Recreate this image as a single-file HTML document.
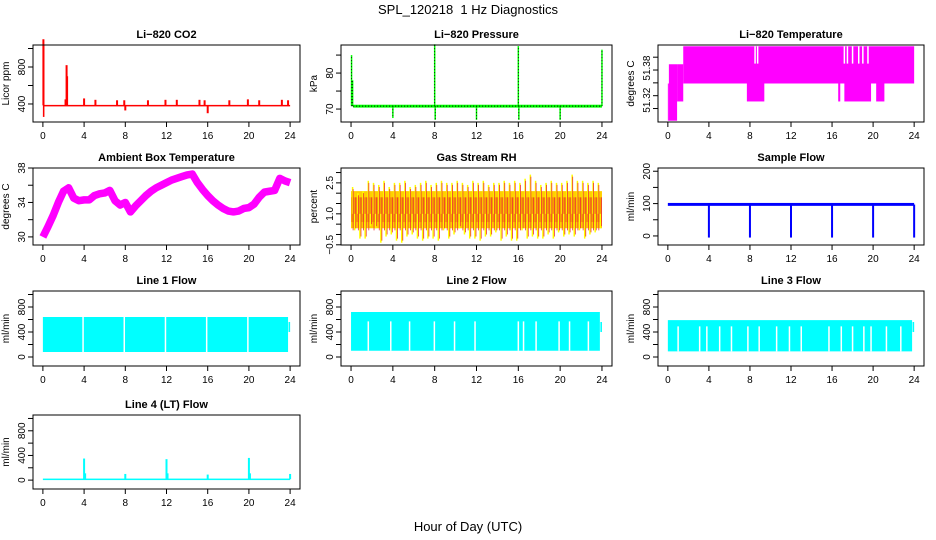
<!DOCTYPE html>
<html><head><meta charset="utf-8"><style>
html,body{margin:0;padding:0;background:#fff;}
svg{display:block;font-family:"Liberation Sans",sans-serif;}
</style></head><body>
<svg id="chart" width="936" height="540" viewBox="0 0 936 540" xmlns="http://www.w3.org/2000/svg">
<text x="468" y="14" text-anchor="middle" font-size="13" style="white-space:pre">SPL_120218  1 Hz Diagnostics</text>
<text x="468" y="531" text-anchor="middle" font-size="13">Hour of Day (UTC)</text>
</svg>
<script>
// ---------- data ----------
const xTicks = [0,4,8,12,16,20,24];
// CO2
const co2Base = 385;
const co2SpikeT = [0.05,2.2,2.3,2.35,4,5.1,7.2,7.9,8.0,10.2,11.9,13,15.2,15.7,16.0,18.1,19.9,21,23.2,23.8];
const co2SpikeV = [1100,450,820,700,460,445,440,440,330,440,445,445,445,440,300,440,450,440,445,440];
// Pressure
const presBase = 70.8;
const presSpikeT = [0.05,0.15,4,8,8.05,12,16,16.05,20,24];
const presSpikeV = [85,78,67.5,88,67,67,87.5,67,67,86.5];
// Li-820 temperature: segments
const ltT0 = [0,0.1,0.9,1.5,7.7,16.6,17.2,20.3];
const ltT1 = [0.1,0.9,1.5,24,9.4,16.8,19.8,21.1];
const ltLo = [51.281,51.281,51.311,51.339,51.311,51.311,51.311,51.311];
const ltHi = [51.339,51.369,51.369,51.397,51.339,51.339,51.339,51.339];
const ltDrop = [8.5,8.75,17.2,17.5,18.0,18.6,19.0,19.5];
// Ambient box temperature
const ambT = [0,0.5,1,1.5,2,2.5,3,3.5,4,4.5,5,5.5,6,6.5,7,7.5,8,8.5,9,9.5,10,10.5,11,11.5,12,12.5,13,13.5,14,14.5,15,15.5,16,16.5,17,17.5,18,18.5,19,19.5,20,20.5,21,21.5,22,22.5,23,23.5,24];
const ambV = [30.0,31.2,32.5,34.0,35.3,35.7,34.5,34.2,34.3,34.3,34.8,35.0,35.1,35.4,34.2,33.7,34.0,32.9,33.6,34.2,34.8,35.3,35.7,36.0,36.3,36.6,36.8,37.0,37.2,37.3,36.3,35.5,34.8,34.2,33.7,33.3,33.0,32.9,33.0,33.3,33.4,33.8,34.6,35.2,35.3,35.4,36.8,36.5,36.3];
// Gas stream RH (per half hour bins)
const rhHi = [2.3,2.0,2.1,2.6,2.5,2.4,2.6,2.3,2.5,2.5,2.6,2.3,2.4,2.5,2.6,2.4,2.5,2.6,2.5,2.5,2.6,2.5,2.4,2.6,2.5,2.6,2.4,2.5,2.5,2.6,2.5,2.6,2.5,2.7,2.9,2.6,2.4,2.5,2.6,2.5,2.5,2.6,2.9,2.6,2.6,2.5,2.6,2.5];
const rhLo = [0.2,-0.2,-0.2,0.4,0.3,-0.4,-0.1,0.0,-0.3,-0.4,-0.1,0.0,-0.2,-0.3,-0.2,-0.2,-0.3,0.2,-0.2,0.0,0.3,0.0,-0.2,-0.2,-0.3,-0.1,-0.1,0.1,-0.3,-0.1,-0.3,-0.3,0.2,-0.2,-0.1,-0.2,-0.2,0.0,-0.2,0.1,-0.1,0.0,-0.1,0.2,-0.2,0.0,0.1,0.3];
// Sample flow
const sfBase = 97;
const sfDipT = [4,8,12,16,20,24];
const sfDipV = [-5,-5,-5,-5,-5,-5];
// Line flows
const l1Lo = 80, l1Hi = 640, l1End = 23.8;
const l1Gaps = [3.9,7.9,11.9,15.9,19.9];
const l2Lo = 100, l2Hi = 720, l2End = 23.8;
const l2Gaps = [1.65,3.8,5.6,7.97,9.9,11.86,16.0,16.5,17.7,19.9,20.9,22.7];
const l3Lo = 90, l3Hi = 590, l3End = 23.8;
const l3Gaps = [1.0,3.1,3.8,5.05,6.2,7.8,8.9,10.6,11.85,13.0,15.7,16.9,18.0,19.1,19.8,21.3,22.7];
const l4Base = 15;
const l4SpikeT = [4,4.1,8,12,12.1,16,20,20.1,24];
const l4SpikeV = [350,110,100,340,110,90,360,110,100];

// ---------- layout ----------
const NS = "http://www.w3.org/2000/svg";
const svg = document.getElementById("chart");
const colX0 = [33,341,658], colX1 = [300,612,924];
const rowY0 = [45,168,291,415], rowY1 = [122,245,366,489];
function mk(tag, attrs, parent){ const e=document.createElementNS(NS,tag); for(const k in attrs) e.setAttribute(k,attrs[k]); (parent||svg).appendChild(e); return e; }

function panel(name, col, row, title, ylab, ylim, yticks, ylabVals, ylabTexts){
  const bx0=colX0[col], bx1=colX1[col], by0=rowY0[row], by1=rowY1[row];
  const g = mk("g",{});
  
  
  const x = t => bx0 + (t+0.96)/25.92*(bx1-bx0);
  const y = v => by1 - (v-ylim[0])/(ylim[1]-ylim[0])*(by1-by0);
  const plot = mk("g",{},g);
  
  
  const fr = mk("rect",{x:bx0,y:by0,width:bx1-bx0,height:by1-by0,fill:"none",stroke:"#000","stroke-width":1},g);
  
  
  const tt = mk("text",{x:(bx0+bx1)/2,y:by0-7,"text-anchor":"middle","font-size":11,"font-weight":"bold"},g);
  tt.textContent = title;
  
  
  const xa = mk("g",{},g);
  
  
  mk("line",{x1:x(xTicks[0]),x2:x(xTicks[xTicks.length-1]),y1:by1,y2:by1,stroke:"#000"},xa);
  xTicks.forEach(t=>{
    mk("line",{x1:x(t),x2:x(t),y1:by1,y2:by1+5,stroke:"#000"},xa);
    const l = mk("text",{x:x(t),y:by1+17,"text-anchor":"middle","font-size":10},xa);
    l.textContent = t;
    
    
  });
  const ya = mk("g",{},g);
  
  
  mk("line",{x1:bx0,x2:bx0,y1:y(yticks[0]),y2:y(yticks[yticks.length-1]),stroke:"#000"},ya);
  yticks.forEach(v=>mk("line",{x1:bx0-5,x2:bx0,y1:y(v),y2:y(v),stroke:"#000"},ya));
  ylabVals.forEach((v,i)=>{
    const yy=y(v), xx=bx0-8;
    const l = mk("text",{x:xx,y:yy,"text-anchor":"middle","font-size":10,transform:`rotate(-90 ${xx} ${yy})`},ya);
    l.textContent = ylabTexts[i];
    
    
  });
  const yl = mk("text",{x:bx0-24,y:(by0+by1)/2,"text-anchor":"middle","font-size":10,transform:`rotate(-90 ${bx0-24} ${(by0+by1)/2})`},g);
  yl.textContent = ylab;
  
  
  return {x,y,g:plot};
}
function vline(p,t,v0,v1,color,w){ return mk("line",{x1:p.x(t),x2:p.x(t),y1:p.y(v0),y2:p.y(v1),stroke:color,"stroke-width":w||1.5},p.g); }
function band(p,t0,t1,v0,v1,color){ const a=p.x(t0),b=p.x(t1),c=p.y(v1),d=p.y(v0); return mk("rect",{x:a,y:c,width:Math.max(b-a,1),height:Math.max(d-c,1.5),fill:color},p.g); }

// CO2
let p = panel("co2",0,0,"Li\u2212820 CO2","Licor ppm",[205,1038],[400,600,800,1000],[400,800],["400","800"]);
band(p,0.1,24,co2Base-6,co2Base+5,"#f00");
co2SpikeT.forEach((t,i)=>vline(p,t,co2Base,co2SpikeV[i],"#f00",2));
band(p,0,0.15,260,1038,"#f00");

// Pressure
p = panel("pressure",1,0,"Li\u2212820 Pressure","kPa",[66.4,87.8],[70,75,80,85],[70,80],["70","80"]);
band(p,0.2,24,presBase-0.4,presBase+0.4,"#0f0");
mk("line",{x1:p.x(0.2),x2:p.x(24),y1:p.y(presBase),y2:p.y(presBase),stroke:"#000","stroke-dasharray":"1 2","stroke-width":1},p.g);
presSpikeT.forEach((t,i)=>{ vline(p,t,presBase,presSpikeV[i],"#0f0",1.5); mk("line",{x1:p.x(t),x2:p.x(t),y1:p.y(presBase),y2:p.y(presSpikeV[i]),stroke:"#000","stroke-dasharray":"1 2","stroke-width":0.8},p.g); });

// Li-820 temperature
p = panel("li820-temp",2,0,"Li\u2212820 Temperature","degrees C",[51.279,51.399],[51.30,51.32,51.34,51.36,51.38],[51.313,51.363],["51.32","51.38"]);
ltT0.forEach((t,i)=>band(p,t,ltT1[i],ltLo[i],ltHi[i],"#f0f"));
ltDrop.forEach(t=>mk("line",{x1:p.x(t),x2:p.x(t),y1:p.y(51.397),y2:p.y(51.370),stroke:"#fff","stroke-width":1.5},p.g));

// Ambient
p = panel("ambient-temp",0,1,"Ambient Box Temperature","degrees C",[29.06,38.0],[30,32,34,36,38],[30,34,38],["30","34","38"]);
mk("polyline",{points:ambT.map((t,i)=>p.x(t)+","+p.y(ambV[i])).join(" "),fill:"none",stroke:"#f0f","stroke-width":7.5,"stroke-linejoin":"round"},p.g);

// RH
p = panel("gas-rh",1,1,"Gas Stream RH","percent",[-0.51,3.22],[-0.5,0,0.5,1,1.5,2,2.5,3],[-0.5,1.0,2.5],["\u22120.5","1.0","2.5"]);
band(p,0,24,0.3,2.1,"#ffd000");
band(p,0,24,0.6,1.8,"#f5a000");
rhHi.forEach((v,i)=>{ const t=i*0.5+0.15; vline(p,t,1.0,v,"#ff0",1.5); vline(p,t+0.2,1.0,rhLo[i],"#ff0",1.5); vline(p,t+0.05,0.2,v-0.1,"#e33",0.8); vline(p,t+0.3,1.8,rhLo[i]+0.1,"#e33",0.8); });

// Sample flow
p = panel("sample-flow",2,1,"Sample Flow","ml/min",[-28,210],[0,50,100,150,200],[0,100,200],["0","100","200"]);
band(p,0,24,sfBase-4,sfBase+5,"#00f");
sfDipT.forEach((t,i)=>vline(p,t,sfBase,sfDipV[i],"#00f",2));

// Flows
const flowTicks=[0,200,400,600,800,1000], flowLab=[0,400,800], flowLabT=["0","400","800"];
function flowPanel(name,col,row,title,lo,hi,end,gaps,gapTop){
  const q = panel(name,col,row,title,"ml/min",[-144,1056],flowTicks,flowLab,flowLabT);
  band(q,0,end,lo,hi,"#0ff");
  band(q,end+0.05,24,400,560,"#0ff");
  gaps.forEach(t=>mk("line",{x1:q.x(t),x2:q.x(t),y1:q.y(gapTop),y2:q.y(lo),stroke:"#fff","stroke-width":1.5},q.g));
  return q;
}
flowPanel("line1-flow",0,2,"Line 1 Flow",l1Lo,l1Hi,l1End,l1Gaps,l1Hi);
flowPanel("line2-flow",1,2,"Line 2 Flow",l2Lo,l2Hi,l2End,l2Gaps,l2Hi-150);
flowPanel("line3-flow",2,2,"Line 3 Flow",l3Lo,l3Hi,l3End,l3Gaps,l3Hi-100);
p = panel("line4-flow",0,3,"Line 4 (LT) Flow","ml/min",[-144,1056],flowTicks,flowLab,flowLabT);
band(p,0,24,l4Base-10,l4Base+10,"#0ff");
l4SpikeT.forEach((t,i)=>vline(p,t,l4Base,l4SpikeV[i],"#0ff",2));
</script>
</body></html>
